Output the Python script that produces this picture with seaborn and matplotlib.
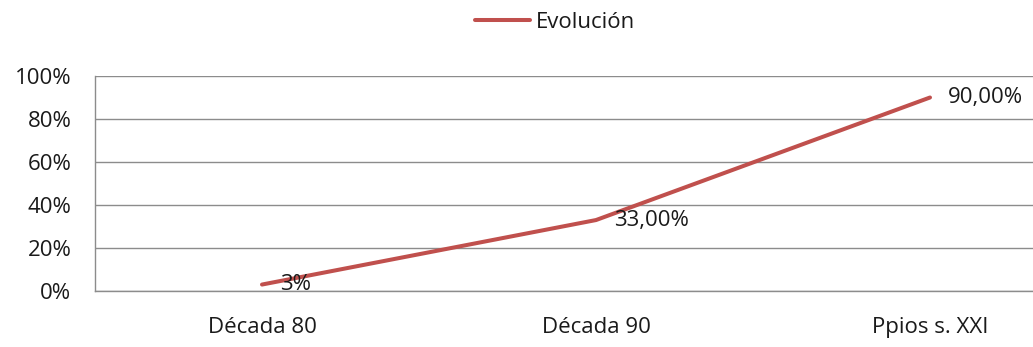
import matplotlib
matplotlib.use("Agg")
import matplotlib.pyplot as plt
import seaborn as sns
import pandas as pd

# Series data
categorias = ["Década 80", "Década 90", "Ppios s. XXI"]
valores = [0.03, 0.33, 0.90]
etiquetas = ["3%", "33,00%", "90,00%"]
serie = "Evolución"

y_ticks = [0.0, 0.2, 0.4, 0.6, 0.8, 1.0]
y_labels = ["0%", "20%", "40%", "60%", "80%", "100%"]

sns.set_theme(style="white")
plt.rcParams["font.family"] = ["Open Sans", "DejaVu Sans"]

FS = 16
TXT = "#1a1a1a"

W, H = 1033, 347
fig = plt.figure(figsize=(W / 100, H / 100), dpi=100)
ax = fig.add_axes([95 / W, 56 / H, 1002 / W, 215 / H])

df = pd.DataFrame({"x": range(len(categorias)), "y": valores, "serie": serie})
color = "#C0504D"
sns.lineplot(data=df, x="x", y="y", hue="serie", palette=[color],
             linewidth=2.9, ax=ax, legend=False)
ax.lines[0].set_solid_capstyle("round")

for i, (v, t) in enumerate(zip(valores, etiquetas)):
    ax.annotate(t, xy=(i, v), xytext=(13, 0), textcoords="offset points",
                ha="left", va="center", fontsize=FS, color=TXT)

ax.set_xlim(-0.5, len(categorias) - 0.5)
ax.set_ylim(0, 1)
ax.set_yticks(y_ticks)
ax.set_yticklabels(y_labels)
ax.set_xticks(range(len(categorias)))
ax.set_xticklabels(categorias)
ax.tick_params(axis="y", length=0, pad=17, labelsize=FS, labelcolor=TXT)
ax.tick_params(axis="x", length=0, pad=19, labelsize=FS, labelcolor=TXT)
ax.set_xlabel("")
ax.set_ylabel("")

grid_color = "#8c8c8c"
ax.yaxis.grid(True, color=grid_color, linewidth=1.0)
ax.set_axisbelow(True)
for side in ["top", "right"]:
    ax.spines[side].set_visible(False)
for side in ["left", "bottom"]:
    ax.spines[side].set_color(grid_color)
    ax.spines[side].set_linewidth(1.0)

handle = plt.Line2D([], [], color=color, linewidth=2.9, solid_capstyle="round")
fig.legend([handle], [serie], loc="center", bbox_to_anchor=(555 / W, 1 - 22 / H),
           frameon=False, fontsize=FS, handlelength=2.45, handletextpad=0.25,
           labelcolor=TXT)

fig.savefig("out.png", dpi=100)
